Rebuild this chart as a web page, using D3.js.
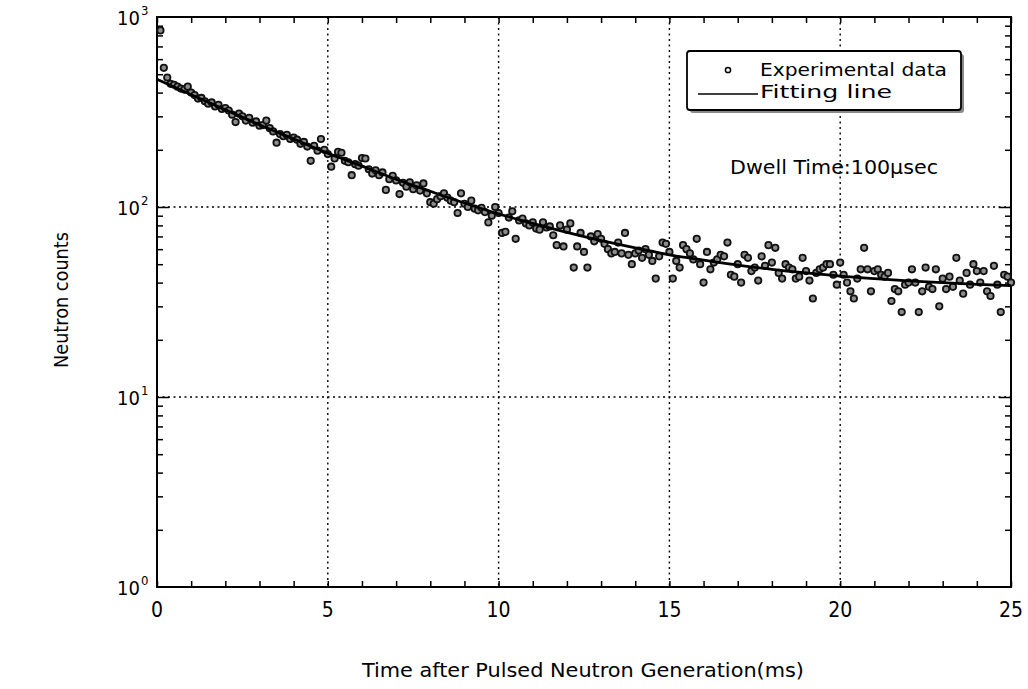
<!DOCTYPE html>
<html>
<head>
<meta charset="utf-8">
<script src="https://cdn.jsdelivr.net/npm/d3@7"></script>
<style>
  body { margin: 0; background: #fff; }
  svg { display: block; }
  text { font-family: "DejaVu Sans Condensed", "Liberation Sans Narrow", "DejaVu Sans", sans-serif; fill: #000; }
</style>
</head>
<body>
<svg id="chart" width="1028" height="689"></svg>
<script>
// ---- Data ----
const dwellMs = 0.1; // 100 µs channels
const experimentalCounts = [
  850, 540, 480, 445, 440, 430, 420, 415, 430, 400,
  388, 372, 375, 360, 350, 355, 338, 345, 328, 332,
  322, 306, 280, 310, 300, 285, 295, 278, 282, 268,
  270, 285, 260, 250, 218, 242, 236, 240, 228, 232,
  226, 215, 220, 208, 175, 210, 198, 228, 200, 190,
  163, 180, 195, 193, 175, 172, 147, 168, 165, 181,
  180, 158, 150, 156, 147, 152, 123, 140, 146, 138,
  117, 134, 128, 135, 124, 130, 122, 133, 118, 106,
  104, 110, 114, 118, 112, 108, 106, 93, 118, 104,
  100, 108, 98, 96, 99, 94, 83, 90, 100, 93,
  73, 74, 88, 95, 68, 85, 87, 82, 80, 83,
  77, 76, 83, 78, 79, 71, 63, 80, 62, 76,
  82, 48, 62, 73, 58, 48, 70, 66, 72, 68,
  64, 60, 57, 58, 65, 57, 73, 56, 50, 57,
  59, 54, 60, 56, 52, 42, 55, 65, 64, 58,
  42, 52, 48, 63, 60, 57, 53, 68, 50, 40,
  58, 47, 51, 53, 56, 55, 65, 44, 43, 50,
  40, 56, 54, 46, 48, 41, 55, 49, 63, 51,
  61, 45, 42, 50, 48, 47, 42, 43, 54, 46,
  41, 33, 45, 47, 48, 50, 50, 44, 39, 51,
  44, 40, 36, 33, 42, 47, 61, 47, 36, 46,
  47, 44, 43, 45, 32, 37, 36, 28, 39, 40,
  47, 40, 28, 36, 48, 38, 37, 47, 30, 42,
  37, 43, 38, 54, 41, 35, 45, 39, 50, 46,
  40, 46, 36, 34, 49, 39, 28, 44, 43, 40
];
const fitTimes  = [0, 1, 2, 3, 4, 5, 6, 7, 8, 9, 10, 11, 12, 13, 14, 15, 16, 17, 18, 19, 20, 21, 22, 23, 24, 25];
const fitCounts = [470, 390, 325, 271, 228, 192, 164, 140, 121, 105, 92, 82, 73.5, 66.6, 61, 56, 52.6, 49.5, 47, 45, 43.3, 42, 40.9, 40, 39.2, 38.6];
const xTickValues = [0, 5, 10, 15, 20, 25];
const yTickExponents = [0, 1, 2, 3];
const xLabel = "Time after Pulsed Neutron Generation(ms)";
const yLabel = "Neutron counts";
const legendLabels = ["Experimental data", "Fitting line"];
const noteText = "Dwell Time:100\u03bcsec";

// ---- Layout ----
const L = 157, R = 1011, T = 17, B = 587;
const svg = d3.select("#chart");
const x = d3.scaleLinear().domain([0, 25]).range([L, R]);
const y = d3.scaleLog().domain([1, 1000]).range([B, T]);

const points = experimentalCounts.map((v, i) => ({ t: (i + 1) * dwellMs, v }));
const fit = fitTimes.map((t, i) => ({ t, v: fitCounts[i] }));

// grid
const grid = svg.append("g").attr("stroke", "#000").attr("stroke-width", 1.4).attr("stroke-dasharray", "2,3.5");
[5, 10, 15, 20].forEach(t => grid.append("line").attr("x1", x(t)).attr("x2", x(t)).attr("y1", T).attr("y2", B));
[10, 100].forEach(v => grid.append("line").attr("x1", L).attr("x2", R).attr("y1", y(v)).attr("y2", y(v)));

// ticks (inward, all four sides) via D3 axes
const xMinor = d3.range(0, 26, 1);
const yMinor = [];
for (let e = 0; e < 3; e++) for (let m = 2; m <= 9; m++) yMinor.push(m * Math.pow(10, e));

function styleAxis(g) { g.select(".domain").remove(); g.selectAll("text").remove(); g.selectAll("line").attr("stroke", "#000").attr("stroke-width", 1.5); }

svg.append("g").attr("transform", `translate(0,${B})`)
  .call(d3.axisBottom(x).tickValues(xMinor).tickSize(-6)).call(styleAxis);
svg.append("g").attr("transform", `translate(0,${T})`)
  .call(d3.axisTop(x).tickValues(xMinor).tickSize(-6)).call(styleAxis);
svg.append("g").attr("transform", `translate(${L},0)`)
  .call(d3.axisLeft(y).tickValues(yMinor).tickSize(-6)).call(styleAxis);
svg.append("g").attr("transform", `translate(${R},0)`)
  .call(d3.axisRight(y).tickValues(yMinor).tickSize(-6)).call(styleAxis);
svg.append("g").attr("transform", `translate(${L},0)`)
  .call(d3.axisLeft(y).tickValues([10, 100]).tickSize(-12)).call(styleAxis);
svg.append("g").attr("transform", `translate(${R},0)`)
  .call(d3.axisRight(y).tickValues([10, 100]).tickSize(-12)).call(styleAxis);

// frame
svg.append("rect").attr("x", L).attr("y", T).attr("width", R - L).attr("height", B - T)
  .attr("fill", "none").attr("stroke", "#000").attr("stroke-width", 2);

// data points
svg.append("g").selectAll("circle").data(points).join("circle")
  .attr("cx", d => x(d.t)).attr("cy", d => y(d.v)).attr("r", 3.2)
  .attr("fill", "#8c8c8c").attr("stroke", "#111").attr("stroke-width", 1.8);

// fit line
svg.append("path").datum(fit)
  .attr("d", d3.line().x(d => x(d.t)).y(d => y(d.v)).curve(d3.curveMonotoneX))
  .attr("fill", "none").attr("stroke", "#000").attr("stroke-width", 2.8);

// x tick labels
svg.append("g").selectAll("text").data(xTickValues).join("text")
  .attr("x", d => x(d)).attr("y", 617).attr("text-anchor", "middle")
  .attr("font-size", 21).text(d => d);

// y tick labels 10^n
const yl = svg.append("g").selectAll("g").data(yTickExponents).join("g")
  .attr("transform", d => `translate(140,${y(Math.pow(10, d)) + 8})`);
yl.append("text").attr("text-anchor", "end").attr("font-size", 20).text("10");
yl.append("text").attr("x", 1).attr("y", -10).attr("font-size", 13).text(d => d);

// axis titles
svg.append("text").attr("x", 583).attr("y", 677).attr("text-anchor", "middle")
  .attr("font-size", 19).attr("textLength", 442).attr("lengthAdjust", "spacingAndGlyphs").text(xLabel);
svg.append("text").attr("transform", "translate(68,300) rotate(-90)").attr("text-anchor", "middle")
  .attr("font-size", 19).attr("textLength", 136).attr("lengthAdjust", "spacingAndGlyphs").text(yLabel);

// legend
const lg = svg.append("g");
lg.append("rect").attr("x", 690).attr("y", 54).attr("width", 274).attr("height", 59).attr("rx", 3)
  .attr("fill", "#8a8a8a");
lg.append("rect").attr("x", 687).attr("y", 51).attr("width", 274).attr("height", 59).attr("rx", 3)
  .attr("fill", "#fff").attr("stroke", "#000").attr("stroke-width", 1.8);
lg.append("circle").attr("cx", 728).attr("cy", 70).attr("r", 2.6)
  .attr("fill", "#fff").attr("stroke", "#000").attr("stroke-width", 1.5);
lg.append("line").attr("x1", 698).attr("x2", 758).attr("y1", 94).attr("y2", 94)
  .attr("stroke", "#000").attr("stroke-width", 1.6);
lg.append("text").attr("x", 760).attr("y", 76).attr("font-size", 17)
  .attr("textLength", 187).attr("lengthAdjust", "spacingAndGlyphs").text(legendLabels[0]);
lg.append("text").attr("x", 760).attr("y", 98).attr("font-size", 17)
  .attr("textLength", 132).attr("lengthAdjust", "spacingAndGlyphs").text(legendLabels[1]);

// note
svg.append("text").attr("x", 730).attr("y", 174).attr("font-size", 20)
  .attr("textLength", 208).attr("lengthAdjust", "spacingAndGlyphs").text(noteText);
</script>
</body>
</html>
